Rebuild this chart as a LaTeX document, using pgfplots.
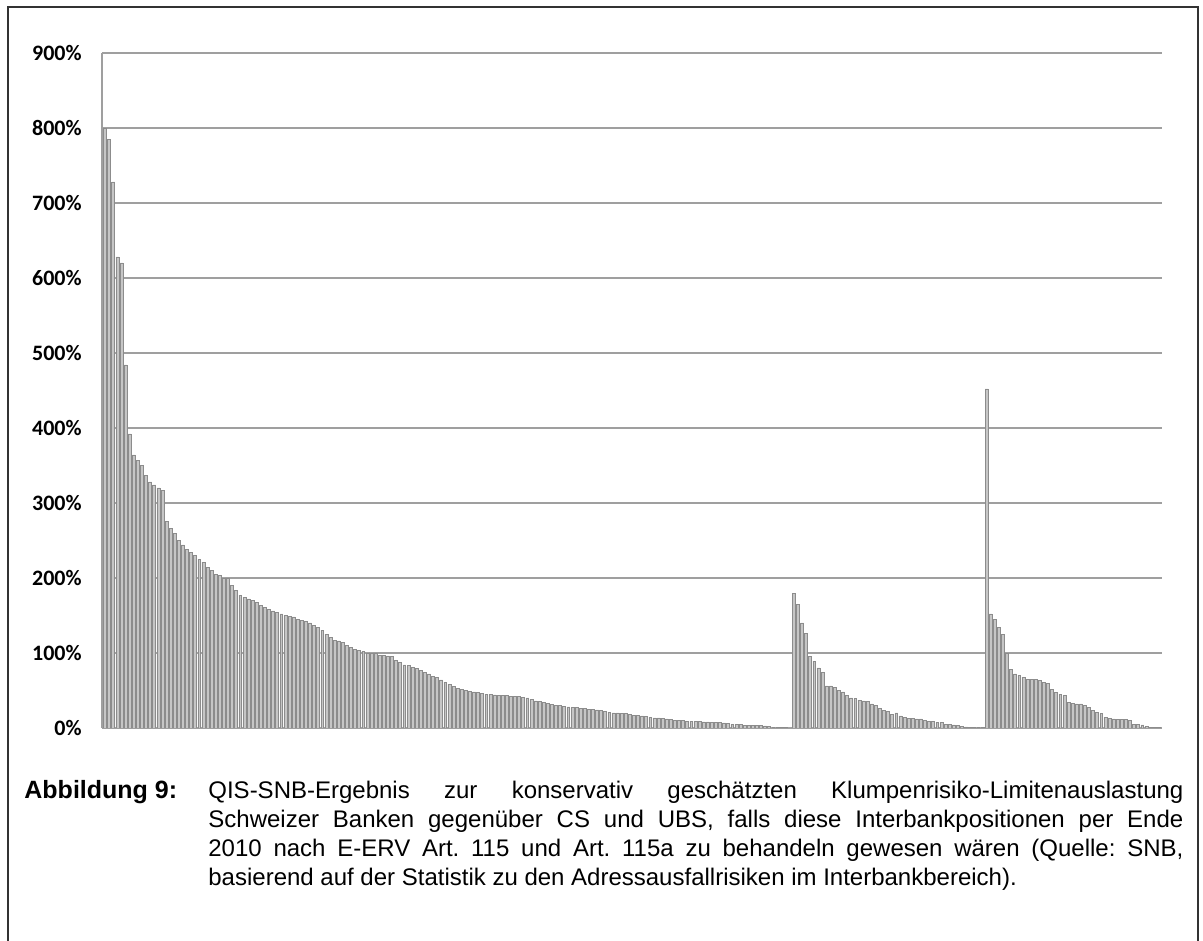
\documentclass[border=0pt]{standalone}
\usepackage{fontspec}
\setmainfont{Liberation Sans}
\newfontfamily\carlito{Carlito}
\usepackage{pgfplots}
\pgfplotsset{compat=1.18}
\pgfplotsset{
  qisbar/.style={ybar, bar width=0.72, bar shift=0pt,
    fill=gray!45, draw=gray!90, line width=0.35pt},
}
\frenchspacing
\begin{document}
\begin{tikzpicture}[x=0.5pt,y=0.5pt]
% coordinates in pixels of the reference, y counted from the bottom
\useasboundingbox (0,0) rectangle (1203,941);
\draw[line width=1pt, black!80] (8,0) -- (8,934) -- (1198,934) -- (1198,0);

\begin{axis}[
  at={(51pt,106.5pt)}, anchor=south west,
  scale only axis,
  width=530pt, height=337.5pt,
  xmin=-0.75, xmax=257.8,
  ymin=0, ymax=900,
  xtick=\empty,
  ytick={0,100,...,900},
  yticklabel={\pgfmathprintnumber[fixed,assume math mode=true]{\tick}\%},
  yticklabel style={font=\carlito\bfseries\fontsize{11}{13}\selectfont,
    inner sep=0pt, xshift=-10pt},
  major tick length=0pt,
  axis lines*=left,
  axis line style={gray!75, line width=0.6pt},
  ymajorgrids,
  grid style={gray!75, line width=0.6pt},
]
% first group of banks
\addplot[qisbar] coordinates {
(0,800) (1,785) (2,728) (3,628) (4,620) (5,484) (6,392) (7,364) (8,357) (9,350)
(10,337) (11,328) (12,324) (13,320) (14,317) (15,275) (16,266) (17,259) (18,250) (19,244)
(20,238) (21,234) (22,230) (23,225) (24,221) (25,214) (26,210) (27,205) (28,203) (29,200)
(30,199) (31,190) (32,183) (33,177) (34,174) (35,172) (36,170) (37,167) (38,163) (39,161)
(40,158) (41,156) (42,154) (43,152) (44,150) (45,149) (46,148) (47,145) (48,143) (49,142)
(50,140) (51,137) (52,134) (53,130) (54,125) (55,121) (56,117) (57,116) (58,114) (59,110)
(60,107) (61,105) (62,103) (63,102) (64,100) (65,100) (66,99) (67,97) (68,97) (69,96)
(70,95) (71,90) (72,87) (73,84) (74,83) (75,81) (76,79) (77,77) (78,74) (79,72)
(80,69) (81,67) (82,64) (83,61) (84,58) (85,55) (86,53) (87,51) (88,50) (89,49)
(90,48) (91,47) (92,46) (93,45) (94,45) (95,44) (96,43) (97,43) (98,43) (99,42)
(100,42) (101,42) (102,41) (103,40) (104,38) (105,36) (106,35) (107,34) (108,33) (109,31)
(110,30) (111,30) (112,29) (113,28) (114,27) (115,27) (116,26) (117,26) (118,25) (119,25)
(120,24) (121,23) (122,22) (123,21) (124,20) (125,20) (126,19.5) (127,19) (128,18) (129,17)
(130,17) (131,16) (132,15) (133,14) (134,13.5) (135,13.5) (136,12.5) (137,12) (138,11) (139,10.5)
(140,10) (141,10) (142,9) (143,9) (144,9) (145,8.5) (146,8) (147,8) (148,7.6) (149,7.5)
(150,7) (151,6.7) (152,6) (153,5) (154,4.7) (155,4.2) (156,3.8) (157,3.6) (158,3.4) (159,3.2)
(160,3) (161,2.8) (162,2) (163,1) (164,0.5) (165,0.3) (166,0.2) (167,0.1)
};
% second group
\addplot[qisbar] coordinates {
(168,179) (169,165) (170,140) (171,126) (172,95) (173,89) (174,80) (175,74) (176,56) (177,56)
(178,54) (179,50) (180,48) (181,43) (182,40) (183,39) (184,37) (185,36) (186,35) (187,32)
(188,30) (189,26) (190,23) (191,22) (192,18) (193,20) (194,16) (195,14) (196,13) (197,13)
(198,12) (199,12) (200,10) (201,9) (202,8.5) (203,7.6) (204,7) (205,5) (206,4.5) (207,4)
(208,3) (209,2) (210,1.5) (211,1) (212,0.8) (213,0.5) (214,0.3)
};
% third group
\addplot[qisbar] coordinates {
(215,452) (216,152) (217,145) (218,134) (219,125) (220,100) (221,78) (222,72) (223,70) (224,67.5)
(225,65) (226,65) (227,65) (228,63) (229,61) (230,59) (231,51) (232,47.5) (233,45) (234,43)
(235,34) (236,33) (237,32) (238,32) (239,30) (240,27.5) (241,23) (242,21) (243,19) (244,14)
(245,13) (246,12) (247,11) (248,11) (249,11) (250,10) (251,5) (252,5) (253,4) (254,2)
(255,1) (256,1) (257,0.5)
};
\end{axis}

\node[anchor=base west, inner sep=0pt, font=\fontsize{12.5}{14}\selectfont\bfseries]
  at (24,142) {Abbildung 9:};
\node[anchor=base west, inner sep=0pt] at (208,142) {%
  \parbox[t]{487.5pt}{\fontsize{12}{14.5}\selectfont
  \makebox[487.5pt][s]{QIS-SNB-Ergebnis zur konservativ geschätzten Klumpenrisiko-Limitenauslastung}\par
  \makebox[487.5pt][s]{Schweizer Banken gegenüber CS und UBS, falls diese Interbankpositionen per Ende}\par
  \makebox[487.5pt][s]{2010 nach E-ERV Art. 115 und Art. 115a zu behandeln gewesen wären (Quelle: SNB,}\par
  \noindent basierend auf der Statistik zu den Adressausfallrisiken im Interbankbereich).}};
\end{tikzpicture}
\end{document}
